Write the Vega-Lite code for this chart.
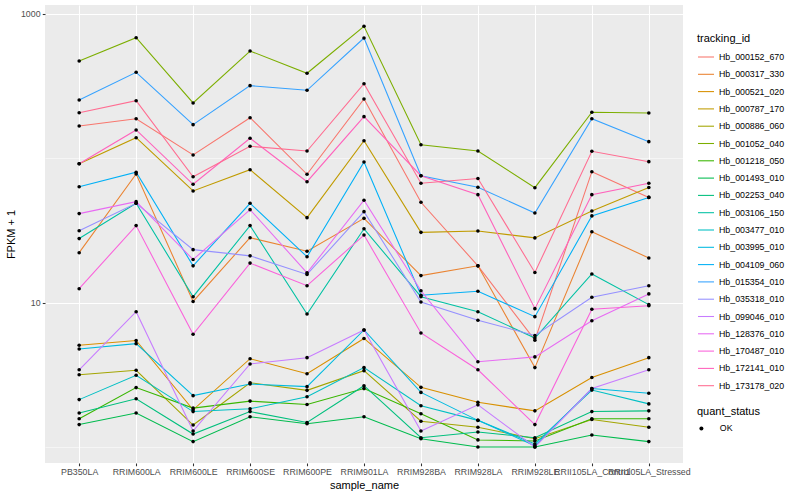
{
  "$schema": "https://vega.github.io/schema/vega-lite/v6.json",
  "autosize": "none",
  "width": 638,
  "height": 458,
  "padding": {"left": 45, "top": 5, "right": 117, "bottom": 37},
  "background": "white",
  "config": {
    "font": "Liberation Sans",
    "view": {"fill": "#EBEBEB", "stroke": null}
  },
  "data": {
    "values": [
      {"id":"Hb_000152_670","sample":"PB350LA","fpkm":167.5,"status":"OK"},
      {"id":"Hb_000152_670","sample":"RRIM600LA","fpkm":188.2,"status":"OK"},
      {"id":"Hb_000152_670","sample":"RRIM600LE","fpkm":105.5,"status":"OK"},
      {"id":"Hb_000152_670","sample":"RRIM600SE","fpkm":191.2,"status":"OK"},
      {"id":"Hb_000152_670","sample":"RRIM600PE","fpkm":77.5,"status":"OK"},
      {"id":"Hb_000152_670","sample":"RRIM901LA","fpkm":257.7,"status":"OK"},
      {"id":"Hb_000152_670","sample":"RRIM928BA","fpkm":49.6,"status":"OK"},
      {"id":"Hb_000152_670","sample":"RRIM928LA","fpkm":18.0,"status":"OK"},
      {"id":"Hb_000152_670","sample":"RRIM928LE","fpkm":5.5,"status":"OK"},
      {"id":"Hb_000152_670","sample":"RRII105LA_Control","fpkm":80.8,"status":"OK"},
      {"id":"Hb_000152_670","sample":"RRII105LA_Stressed","fpkm":53.6,"status":"OK"},

      {"id":"Hb_000317_330","sample":"PB350LA","fpkm":22.2,"status":"OK"},
      {"id":"Hb_000317_330","sample":"RRIM600LA","fpkm":77.9,"status":"OK"},
      {"id":"Hb_000317_330","sample":"RRIM600LE","fpkm":10.2,"status":"OK"},
      {"id":"Hb_000317_330","sample":"RRIM600SE","fpkm":28.2,"status":"OK"},
      {"id":"Hb_000317_330","sample":"RRIM600PE","fpkm":22.7,"status":"OK"},
      {"id":"Hb_000317_330","sample":"RRIM901LA","fpkm":38.4,"status":"OK"},
      {"id":"Hb_000317_330","sample":"RRIM928BA","fpkm":15.4,"status":"OK"},
      {"id":"Hb_000317_330","sample":"RRIM928LA","fpkm":18.0,"status":"OK"},
      {"id":"Hb_000317_330","sample":"RRIM928LE","fpkm":3.55,"status":"OK"},
      {"id":"Hb_000317_330","sample":"RRII105LA_Control","fpkm":31.0,"status":"OK"},
      {"id":"Hb_000317_330","sample":"RRII105LA_Stressed","fpkm":20.4,"status":"OK"},

      {"id":"Hb_000521_020","sample":"PB350LA","fpkm":5.07,"status":"OK"},
      {"id":"Hb_000521_020","sample":"RRIM600LA","fpkm":5.47,"status":"OK"},
      {"id":"Hb_000521_020","sample":"RRIM600LE","fpkm":1.81,"status":"OK"},
      {"id":"Hb_000521_020","sample":"RRIM600SE","fpkm":4.09,"status":"OK"},
      {"id":"Hb_000521_020","sample":"RRIM600PE","fpkm":3.22,"status":"OK"},
      {"id":"Hb_000521_020","sample":"RRIM901LA","fpkm":5.65,"status":"OK"},
      {"id":"Hb_000521_020","sample":"RRIM928BA","fpkm":2.59,"status":"OK"},
      {"id":"Hb_000521_020","sample":"RRIM928LA","fpkm":2.04,"status":"OK"},
      {"id":"Hb_000521_020","sample":"RRIM928LE","fpkm":1.78,"status":"OK"},
      {"id":"Hb_000521_020","sample":"RRII105LA_Control","fpkm":3.03,"status":"OK"},
      {"id":"Hb_000521_020","sample":"RRII105LA_Stressed","fpkm":4.16,"status":"OK"},

      {"id":"Hb_000787_170","sample":"PB350LA","fpkm":91.8,"status":"OK"},
      {"id":"Hb_000787_170","sample":"RRIM600LA","fpkm":139.0,"status":"OK"},
      {"id":"Hb_000787_170","sample":"RRIM600LE","fpkm":59.4,"status":"OK"},
      {"id":"Hb_000787_170","sample":"RRIM600SE","fpkm":83.4,"status":"OK"},
      {"id":"Hb_000787_170","sample":"RRIM600PE","fpkm":38.8,"status":"OK"},
      {"id":"Hb_000787_170","sample":"RRIM901LA","fpkm":132.5,"status":"OK"},
      {"id":"Hb_000787_170","sample":"RRIM928BA","fpkm":30.7,"status":"OK"},
      {"id":"Hb_000787_170","sample":"RRIM928LA","fpkm":31.4,"status":"OK"},
      {"id":"Hb_000787_170","sample":"RRIM928LE","fpkm":28.1,"status":"OK"},
      {"id":"Hb_000787_170","sample":"RRII105LA_Control","fpkm":43.2,"status":"OK"},
      {"id":"Hb_000787_170","sample":"RRII105LA_Stressed","fpkm":62.8,"status":"OK"},

      {"id":"Hb_000886_060","sample":"PB350LA","fpkm":3.17,"status":"OK"},
      {"id":"Hb_000886_060","sample":"RRIM600LA","fpkm":3.40,"status":"OK"},
      {"id":"Hb_000886_060","sample":"RRIM600LE","fpkm":1.42,"status":"OK"},
      {"id":"Hb_000886_060","sample":"RRIM600SE","fpkm":2.79,"status":"OK"},
      {"id":"Hb_000886_060","sample":"RRIM600PE","fpkm":2.47,"status":"OK"},
      {"id":"Hb_000886_060","sample":"RRIM901LA","fpkm":3.38,"status":"OK"},
      {"id":"Hb_000886_060","sample":"RRIM928BA","fpkm":1.51,"status":"OK"},
      {"id":"Hb_000886_060","sample":"RRIM928LA","fpkm":1.37,"status":"OK"},
      {"id":"Hb_000886_060","sample":"RRIM928LE","fpkm":1.14,"status":"OK"},
      {"id":"Hb_000886_060","sample":"RRII105LA_Control","fpkm":1.55,"status":"OK"},
      {"id":"Hb_000886_060","sample":"RRII105LA_Stressed","fpkm":1.37,"status":"OK"},

      {"id":"Hb_001052_040","sample":"PB350LA","fpkm":472.6,"status":"OK"},
      {"id":"Hb_001052_040","sample":"RRIM600LA","fpkm":685,"status":"OK"},
      {"id":"Hb_001052_040","sample":"RRIM600LE","fpkm":241.8,"status":"OK"},
      {"id":"Hb_001052_040","sample":"RRIM600SE","fpkm":554,"status":"OK"},
      {"id":"Hb_001052_040","sample":"RRIM600PE","fpkm":388.4,"status":"OK"},
      {"id":"Hb_001052_040","sample":"RRIM901LA","fpkm":821.7,"status":"OK"},
      {"id":"Hb_001052_040","sample":"RRIM928BA","fpkm":124.3,"status":"OK"},
      {"id":"Hb_001052_040","sample":"RRIM928LA","fpkm":112.4,"status":"OK"},
      {"id":"Hb_001052_040","sample":"RRIM928LE","fpkm":62.6,"status":"OK"},
      {"id":"Hb_001052_040","sample":"RRII105LA_Control","fpkm":208.5,"status":"OK"},
      {"id":"Hb_001052_040","sample":"RRII105LA_Stressed","fpkm":206.2,"status":"OK"},

      {"id":"Hb_001218_050","sample":"PB350LA","fpkm":1.57,"status":"OK"},
      {"id":"Hb_001218_050","sample":"RRIM600LA","fpkm":2.58,"status":"OK"},
      {"id":"Hb_001218_050","sample":"RRIM600LE","fpkm":1.86,"status":"OK"},
      {"id":"Hb_001218_050","sample":"RRIM600SE","fpkm":2.08,"status":"OK"},
      {"id":"Hb_001218_050","sample":"RRIM600PE","fpkm":1.97,"status":"OK"},
      {"id":"Hb_001218_050","sample":"RRIM901LA","fpkm":2.54,"status":"OK"},
      {"id":"Hb_001218_050","sample":"RRIM928BA","fpkm":1.70,"status":"OK"},
      {"id":"Hb_001218_050","sample":"RRIM928LA","fpkm":1.12,"status":"OK"},
      {"id":"Hb_001218_050","sample":"RRIM928LE","fpkm":1.10,"status":"OK"},
      {"id":"Hb_001218_050","sample":"RRII105LA_Control","fpkm":1.57,"status":"OK"},
      {"id":"Hb_001218_050","sample":"RRII105LA_Stressed","fpkm":1.57,"status":"OK"},

      {"id":"Hb_001493_010","sample":"PB350LA","fpkm":1.43,"status":"OK"},
      {"id":"Hb_001493_010","sample":"RRIM600LA","fpkm":1.72,"status":"OK"},
      {"id":"Hb_001493_010","sample":"RRIM600LE","fpkm":1.09,"status":"OK"},
      {"id":"Hb_001493_010","sample":"RRIM600SE","fpkm":1.62,"status":"OK"},
      {"id":"Hb_001493_010","sample":"RRIM600PE","fpkm":1.45,"status":"OK"},
      {"id":"Hb_001493_010","sample":"RRIM901LA","fpkm":1.62,"status":"OK"},
      {"id":"Hb_001493_010","sample":"RRIM928BA","fpkm":1.14,"status":"OK"},
      {"id":"Hb_001493_010","sample":"RRIM928LA","fpkm":1.0,"status":"OK"},
      {"id":"Hb_001493_010","sample":"RRIM928LE","fpkm":1.0,"status":"OK"},
      {"id":"Hb_001493_010","sample":"RRII105LA_Control","fpkm":1.21,"status":"OK"},
      {"id":"Hb_001493_010","sample":"RRII105LA_Stressed","fpkm":1.09,"status":"OK"},

      {"id":"Hb_002253_040","sample":"PB350LA","fpkm":1.72,"status":"OK"},
      {"id":"Hb_002253_040","sample":"RRIM600LA","fpkm":2.16,"status":"OK"},
      {"id":"Hb_002253_040","sample":"RRIM600LE","fpkm":1.23,"status":"OK"},
      {"id":"Hb_002253_040","sample":"RRIM600SE","fpkm":1.76,"status":"OK"},
      {"id":"Hb_002253_040","sample":"RRIM600PE","fpkm":1.48,"status":"OK"},
      {"id":"Hb_002253_040","sample":"RRIM901LA","fpkm":2.66,"status":"OK"},
      {"id":"Hb_002253_040","sample":"RRIM928BA","fpkm":1.16,"status":"OK"},
      {"id":"Hb_002253_040","sample":"RRIM928LA","fpkm":1.27,"status":"OK"},
      {"id":"Hb_002253_040","sample":"RRIM928LE","fpkm":1.16,"status":"OK"},
      {"id":"Hb_002253_040","sample":"RRII105LA_Control","fpkm":1.76,"status":"OK"},
      {"id":"Hb_002253_040","sample":"RRII105LA_Stressed","fpkm":1.78,"status":"OK"},

      {"id":"Hb_003106_150","sample":"PB350LA","fpkm":27.8,"status":"OK"},
      {"id":"Hb_003106_150","sample":"RRIM600LA","fpkm":48.8,"status":"OK"},
      {"id":"Hb_003106_150","sample":"RRIM600LE","fpkm":11.0,"status":"OK"},
      {"id":"Hb_003106_150","sample":"RRIM600SE","fpkm":34.2,"status":"OK"},
      {"id":"Hb_003106_150","sample":"RRIM600PE","fpkm":8.35,"status":"OK"},
      {"id":"Hb_003106_150","sample":"RRIM901LA","fpkm":32.5,"status":"OK"},
      {"id":"Hb_003106_150","sample":"RRIM928BA","fpkm":11.0,"status":"OK"},
      {"id":"Hb_003106_150","sample":"RRIM928LA","fpkm":8.66,"status":"OK"},
      {"id":"Hb_003106_150","sample":"RRIM928LE","fpkm":5.69,"status":"OK"},
      {"id":"Hb_003106_150","sample":"RRII105LA_Control","fpkm":15.8,"status":"OK"},
      {"id":"Hb_003106_150","sample":"RRII105LA_Stressed","fpkm":9.69,"status":"OK"},

      {"id":"Hb_003477_010","sample":"PB350LA","fpkm":2.13,"status":"OK"},
      {"id":"Hb_003477_010","sample":"RRIM600LA","fpkm":3.14,"status":"OK"},
      {"id":"Hb_003477_010","sample":"RRIM600LE","fpkm":1.76,"status":"OK"},
      {"id":"Hb_003477_010","sample":"RRIM600SE","fpkm":1.84,"status":"OK"},
      {"id":"Hb_003477_010","sample":"RRIM600PE","fpkm":2.23,"status":"OK"},
      {"id":"Hb_003477_010","sample":"RRIM901LA","fpkm":3.55,"status":"OK"},
      {"id":"Hb_003477_010","sample":"RRIM928BA","fpkm":1.93,"status":"OK"},
      {"id":"Hb_003477_010","sample":"RRIM928LA","fpkm":1.53,"status":"OK"},
      {"id":"Hb_003477_010","sample":"RRIM928LE","fpkm":1.05,"status":"OK"},
      {"id":"Hb_003477_010","sample":"RRII105LA_Control","fpkm":2.48,"status":"OK"},
      {"id":"Hb_003477_010","sample":"RRII105LA_Stressed","fpkm":1.99,"status":"OK"},

      {"id":"Hb_003995_010","sample":"PB350LA","fpkm":4.78,"status":"OK"},
      {"id":"Hb_003995_010","sample":"RRIM600LA","fpkm":5.20,"status":"OK"},
      {"id":"Hb_003995_010","sample":"RRIM600LE","fpkm":2.27,"status":"OK"},
      {"id":"Hb_003995_010","sample":"RRIM600SE","fpkm":2.73,"status":"OK"},
      {"id":"Hb_003995_010","sample":"RRIM600PE","fpkm":2.62,"status":"OK"},
      {"id":"Hb_003995_010","sample":"RRIM901LA","fpkm":6.47,"status":"OK"},
      {"id":"Hb_003995_010","sample":"RRIM928BA","fpkm":2.39,"status":"OK"},
      {"id":"Hb_003995_010","sample":"RRIM928LA","fpkm":1.53,"status":"OK"},
      {"id":"Hb_003995_010","sample":"RRIM928LE","fpkm":1.02,"status":"OK"},
      {"id":"Hb_003995_010","sample":"RRII105LA_Control","fpkm":2.54,"status":"OK"},
      {"id":"Hb_003995_010","sample":"RRII105LA_Stressed","fpkm":2.36,"status":"OK"},

      {"id":"Hb_004109_060","sample":"PB350LA","fpkm":63.6,"status":"OK"},
      {"id":"Hb_004109_060","sample":"RRIM600LA","fpkm":80.1,"status":"OK"},
      {"id":"Hb_004109_060","sample":"RRIM600LE","fpkm":18.0,"status":"OK"},
      {"id":"Hb_004109_060","sample":"RRIM600SE","fpkm":48.8,"status":"OK"},
      {"id":"Hb_004109_060","sample":"RRIM600PE","fpkm":20.8,"status":"OK"},
      {"id":"Hb_004109_060","sample":"RRIM901LA","fpkm":94.3,"status":"OK"},
      {"id":"Hb_004109_060","sample":"RRIM928BA","fpkm":11.25,"status":"OK"},
      {"id":"Hb_004109_060","sample":"RRIM928LA","fpkm":12.0,"status":"OK"},
      {"id":"Hb_004109_060","sample":"RRIM928LE","fpkm":8.0,"status":"OK"},
      {"id":"Hb_004109_060","sample":"RRII105LA_Control","fpkm":39.9,"status":"OK"},
      {"id":"Hb_004109_060","sample":"RRII105LA_Stressed","fpkm":53.6,"status":"OK"},

      {"id":"Hb_015354_010","sample":"PB350LA","fpkm":253.6,"status":"OK"},
      {"id":"Hb_015354_010","sample":"RRIM600LA","fpkm":394.6,"status":"OK"},
      {"id":"Hb_015354_010","sample":"RRIM600LE","fpkm":171.1,"status":"OK"},
      {"id":"Hb_015354_010","sample":"RRIM600SE","fpkm":318.7,"status":"OK"},
      {"id":"Hb_015354_010","sample":"RRIM600PE","fpkm":296.0,"status":"OK"},
      {"id":"Hb_015354_010","sample":"RRIM901LA","fpkm":681.9,"status":"OK"},
      {"id":"Hb_015354_010","sample":"RRIM928BA","fpkm":75.8,"status":"OK"},
      {"id":"Hb_015354_010","sample":"RRIM928LA","fpkm":63.0,"status":"OK"},
      {"id":"Hb_015354_010","sample":"RRIM928LE","fpkm":41.8,"status":"OK"},
      {"id":"Hb_015354_010","sample":"RRII105LA_Control","fpkm":188.2,"status":"OK"},
      {"id":"Hb_015354_010","sample":"RRII105LA_Stressed","fpkm":130.5,"status":"OK"},

      {"id":"Hb_035318_010","sample":"PB350LA","fpkm":31.5,"status":"OK"},
      {"id":"Hb_035318_010","sample":"RRIM600LA","fpkm":48.8,"status":"OK"},
      {"id":"Hb_035318_010","sample":"RRIM600LE","fpkm":23.3,"status":"OK"},
      {"id":"Hb_035318_010","sample":"RRIM600SE","fpkm":21.1,"status":"OK"},
      {"id":"Hb_035318_010","sample":"RRIM600PE","fpkm":15.7,"status":"OK"},
      {"id":"Hb_035318_010","sample":"RRIM901LA","fpkm":42.7,"status":"OK"},
      {"id":"Hb_035318_010","sample":"RRIM928BA","fpkm":10.1,"status":"OK"},
      {"id":"Hb_035318_010","sample":"RRIM928LA","fpkm":7.55,"status":"OK"},
      {"id":"Hb_035318_010","sample":"RRIM928LE","fpkm":5.93,"status":"OK"},
      {"id":"Hb_035318_010","sample":"RRII105LA_Control","fpkm":10.9,"status":"OK"},
      {"id":"Hb_035318_010","sample":"RRII105LA_Stressed","fpkm":13.1,"status":"OK"},

      {"id":"Hb_099046_010","sample":"PB350LA","fpkm":3.43,"status":"OK"},
      {"id":"Hb_099046_010","sample":"RRIM600LA","fpkm":8.66,"status":"OK"},
      {"id":"Hb_099046_010","sample":"RRIM600LE","fpkm":1.29,"status":"OK"},
      {"id":"Hb_099046_010","sample":"RRIM600SE","fpkm":3.76,"status":"OK"},
      {"id":"Hb_099046_010","sample":"RRIM600PE","fpkm":4.16,"status":"OK"},
      {"id":"Hb_099046_010","sample":"RRIM901LA","fpkm":6.47,"status":"OK"},
      {"id":"Hb_099046_010","sample":"RRIM928BA","fpkm":1.29,"status":"OK"},
      {"id":"Hb_099046_010","sample":"RRIM928LA","fpkm":1.96,"status":"OK"},
      {"id":"Hb_099046_010","sample":"RRIM928LE","fpkm":1.0,"status":"OK"},
      {"id":"Hb_099046_010","sample":"RRII105LA_Control","fpkm":2.54,"status":"OK"},
      {"id":"Hb_099046_010","sample":"RRII105LA_Stressed","fpkm":3.43,"status":"OK"},

      {"id":"Hb_128376_010","sample":"PB350LA","fpkm":41.4,"status":"OK"},
      {"id":"Hb_128376_010","sample":"RRIM600LA","fpkm":50.1,"status":"OK"},
      {"id":"Hb_128376_010","sample":"RRIM600LE","fpkm":19.9,"status":"OK"},
      {"id":"Hb_128376_010","sample":"RRIM600SE","fpkm":44.1,"status":"OK"},
      {"id":"Hb_128376_010","sample":"RRIM600PE","fpkm":16.1,"status":"OK"},
      {"id":"Hb_128376_010","sample":"RRIM901LA","fpkm":51.2,"status":"OK"},
      {"id":"Hb_128376_010","sample":"RRIM928BA","fpkm":12.1,"status":"OK"},
      {"id":"Hb_128376_010","sample":"RRIM928LA","fpkm":3.90,"status":"OK"},
      {"id":"Hb_128376_010","sample":"RRIM928LE","fpkm":4.21,"status":"OK"},
      {"id":"Hb_128376_010","sample":"RRII105LA_Control","fpkm":7.50,"status":"OK"},
      {"id":"Hb_128376_010","sample":"RRII105LA_Stressed","fpkm":11.5,"status":"OK"},

      {"id":"Hb_170487_010","sample":"PB350LA","fpkm":12.5,"status":"OK"},
      {"id":"Hb_170487_010","sample":"RRIM600LA","fpkm":34.2,"status":"OK"},
      {"id":"Hb_170487_010","sample":"RRIM600LE","fpkm":6.04,"status":"OK"},
      {"id":"Hb_170487_010","sample":"RRIM600SE","fpkm":18.8,"status":"OK"},
      {"id":"Hb_170487_010","sample":"RRIM600PE","fpkm":13.1,"status":"OK"},
      {"id":"Hb_170487_010","sample":"RRIM901LA","fpkm":29.4,"status":"OK"},
      {"id":"Hb_170487_010","sample":"RRIM928BA","fpkm":6.17,"status":"OK"},
      {"id":"Hb_170487_010","sample":"RRIM928LA","fpkm":3.43,"status":"OK"},
      {"id":"Hb_170487_010","sample":"RRIM928LE","fpkm":1.43,"status":"OK"},
      {"id":"Hb_170487_010","sample":"RRII105LA_Control","fpkm":9.00,"status":"OK"},
      {"id":"Hb_170487_010","sample":"RRII105LA_Stressed","fpkm":9.53,"status":"OK"},

      {"id":"Hb_172141_010","sample":"PB350LA","fpkm":91.8,"status":"OK"},
      {"id":"Hb_172141_010","sample":"RRIM600LA","fpkm":157.2,"status":"OK"},
      {"id":"Hb_172141_010","sample":"RRIM600LE","fpkm":66.1,"status":"OK"},
      {"id":"Hb_172141_010","sample":"RRIM600SE","fpkm":137.7,"status":"OK"},
      {"id":"Hb_172141_010","sample":"RRIM600PE","fpkm":68.9,"status":"OK"},
      {"id":"Hb_172141_010","sample":"RRIM901LA","fpkm":194.4,"status":"OK"},
      {"id":"Hb_172141_010","sample":"RRIM928BA","fpkm":75.8,"status":"OK"},
      {"id":"Hb_172141_010","sample":"RRIM928LA","fpkm":56.0,"status":"OK"},
      {"id":"Hb_172141_010","sample":"RRIM928LE","fpkm":9.09,"status":"OK"},
      {"id":"Hb_172141_010","sample":"RRII105LA_Control","fpkm":56.0,"status":"OK"},
      {"id":"Hb_172141_010","sample":"RRII105LA_Stressed","fpkm":67.2,"status":"OK"},

      {"id":"Hb_173178_020","sample":"PB350LA","fpkm":207.1,"status":"OK"},
      {"id":"Hb_173178_020","sample":"RRIM600LA","fpkm":250.8,"status":"OK"},
      {"id":"Hb_173178_020","sample":"RRIM600LE","fpkm":74.6,"status":"OK"},
      {"id":"Hb_173178_020","sample":"RRIM600SE","fpkm":121.2,"status":"OK"},
      {"id":"Hb_173178_020","sample":"RRIM600PE","fpkm":112.4,"status":"OK"},
      {"id":"Hb_173178_020","sample":"RRIM901LA","fpkm":328.9,"status":"OK"},
      {"id":"Hb_173178_020","sample":"RRIM928BA","fpkm":67.2,"status":"OK"},
      {"id":"Hb_173178_020","sample":"RRIM928LA","fpkm":72.5,"status":"OK"},
      {"id":"Hb_173178_020","sample":"RRIM928LE","fpkm":16.2,"status":"OK"},
      {"id":"Hb_173178_020","sample":"RRII105LA_Control","fpkm":111.9,"status":"OK"},
      {"id":"Hb_173178_020","sample":"RRII105LA_Stressed","fpkm":94.8,"status":"OK"}
    ]
  },
  "encoding": {
    "x": {
      "field": "sample",
      "type": "nominal",
      "sort": null,
      "scale": {"type": "point", "padding": 0.6},
      "axis": {
        "title": "sample_name",
        "titleFontSize": 11,
        "titleFontWeight": "normal",
        "titleColor": "#000000",
        "titlePadding": 3,
        "labelAngle": 0,
        "labelFontSize": 8.8,
        "labelColor": "#4D4D4D",
        "labelPadding": 2.2,
        "labelOverlap": false,
        "labelBound": false,
        "labelFlush": false,
        "domain": false,
        "tickColor": "#333333",
        "tickSize": 2.74,
        "tickWidth": 1.07,
        "grid": true,
        "gridColor": "#FFFFFF",
        "gridWidth": 1.07
      }
    },
    "y": {
      "field": "fpkm",
      "type": "quantitative",
      "scale": {"type": "log", "domain": [0.775, 1154], "nice": false, "zero": false},
      "axis": {
        "title": "FPKM + 1",
        "titleFontSize": 11,
        "titleFontWeight": "normal",
        "titleColor": "#000000",
        "titlePadding": 4,
        "values": [1, 10, 100, 1000],
        "labelExpr": "datum.value == 10 ? '10' : datum.value == 1000 ? '1000' : ''",
        "labelFontSize": 8.8,
        "labelColor": "#4D4D4D",
        "labelPadding": 2.2,
        "domain": false,
        "tickColor": "#333333",
        "tickSize": 2.74,
        "tickWidth": 1.07,
        "tickOpacity": {"condition": {"test": "datum.value == 10 || datum.value == 1000", "value": 1}, "value": 0},
        "grid": true,
        "gridColor": "#FFFFFF",
        "gridWidth": {"condition": {"test": "datum.value == 10 || datum.value == 1000", "value": 1.07}, "value": 0.53}
      }
    }
  },
  "layer": [
    {
      "mark": {"type": "line", "strokeWidth": 1.07},
      "encoding": {
        "color": {
          "field": "id",
          "type": "nominal",
          "scale": {
            "domain": ["Hb_000152_670","Hb_000317_330","Hb_000521_020","Hb_000787_170","Hb_000886_060","Hb_001052_040","Hb_001218_050","Hb_001493_010","Hb_002253_040","Hb_003106_150","Hb_003477_010","Hb_003995_010","Hb_004109_060","Hb_015354_010","Hb_035318_010","Hb_099046_010","Hb_128376_010","Hb_170487_010","Hb_172141_010","Hb_173178_020"],
            "range": ["#F8766D","#EA8331","#D89000","#C09B00","#A3A500","#7CAE00","#39B600","#00BB4E","#00BF7D","#00C1A3","#00BFC4","#00BAE0","#00B0F6","#35A2FF","#9590FF","#C77CFF","#E76BF3","#FA62DB","#FF62BC","#FF6C91"]
          },
          "legend": {
            "title": "tracking_id",
            "orient": "none",
            "legendX": 652,
            "legendY": 28,
            "symbolType": "stroke",
            "symbolSize": 256,
            "symbolStrokeWidth": 1.07,
            "rowPadding": 3.3,
            "labelOffset": 4,
            "labelFontSize": 8.8,
            "labelColor": "#000000",
            "titleFontSize": 11,
            "titleFontWeight": "normal",
            "titleColor": "#000000",
            "titlePadding": 4
          }
        }
      }
    },
    {
      "mark": {"type": "point", "filled": true, "color": "#000000", "size": 13, "opacity": 1},
      "encoding": {
        "shape": {
          "field": "status",
          "type": "nominal",
          "scale": {"range": ["circle"]},
          "legend": {
            "title": "quant_status",
            "orient": "none",
            "legendX": 652,
            "legendY": 401,
            "symbolSize": 16,
            "symbolFillColor": "#000000",
            "symbolStrokeColor": "#000000",
            "labelOffset": 14,
            "labelFontSize": 8.8,
            "labelColor": "#000000",
            "titleFontSize": 11,
            "titleFontWeight": "normal",
            "titleColor": "#000000",
            "titlePadding": 7
          }
        }
      }
    }
  ]
}
